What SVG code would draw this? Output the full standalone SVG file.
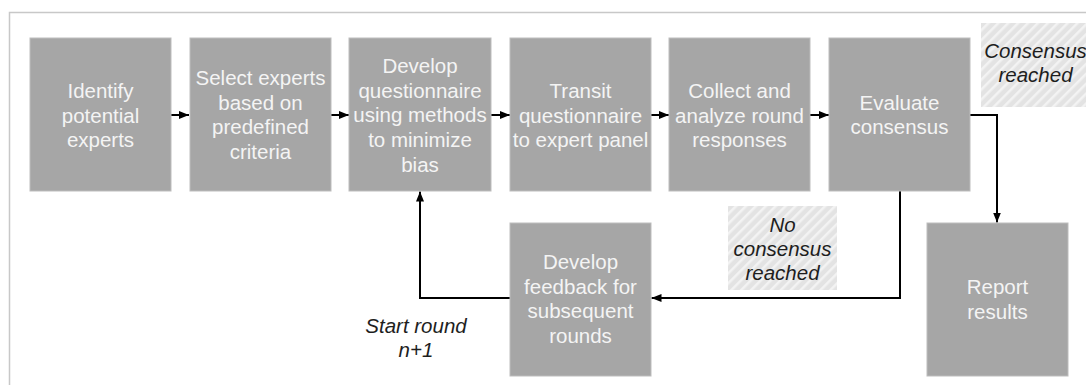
<svg xmlns="http://www.w3.org/2000/svg" width="1086" height="385" viewBox="0 0 1086 385">
<style>
.box{fill:#a6a6a6;stroke:#bdbdbd;stroke-width:1}
.lbl{font-family:"Liberation Sans",Arial,sans-serif;font-size:20.5px;fill:#f4f4f4;text-anchor:middle}
.note{font-family:"Liberation Sans",Arial,sans-serif;font-size:20.5px;font-style:italic;fill:#1e1e1e;text-anchor:middle}
.hatch{fill:url(#hatch)}
.conn{fill:none;stroke:#000;stroke-width:2;marker-end:url(#arr)}
</style>
<defs>
<pattern id="hatch" patternUnits="userSpaceOnUse" width="7" height="7" patternTransform="rotate(45)">
<rect width="7" height="7" fill="#e3e3e3"/>
<rect width="2.5" height="7" fill="#f3f3f3"/>
</pattern>
<marker id="arr" markerUnits="userSpaceOnUse" markerWidth="10" markerHeight="10" viewBox="0 0 10 10" refX="10" refY="5" orient="auto">
<path d="M0,1 L10,5 L0,9 Z" fill="#000"/>
</marker>
</defs>
<rect x="9.5" y="12.5" width="1100" height="400" fill="#fff" stroke="#c8c8c8" stroke-width="1.5"/>

<g id="connectors">
<path class="conn" d="M171,115 H189"/>
<path class="conn" d="M331,115 H349"/>
<path class="conn" d="M491,115 H510"/>
<path class="conn" d="M651,115 H669"/>
<path class="conn" d="M810,115 H829"/>
<path class="conn" d="M970,115 H997 V222.5"/>
<path class="conn" d="M900,191 V298 H651.5"/>
<path class="conn" d="M510,298 H420 V191.5"/>
</g>

<g id="n1">
<rect class="box" x="30" y="38" width="141" height="153"/>
<text class="lbl" x="100.5" y="98"><tspan x="100.5">Identify</tspan><tspan x="100.5" dy="24.7">potential</tspan><tspan x="100.5" dy="24.7">experts</tspan></text>
</g>
<g id="n2">
<rect class="box" x="190" y="38" width="141" height="153"/>
<text class="lbl" x="260.5" y="85"><tspan x="260.5">Select experts</tspan><tspan x="260.5" dy="24.7">based on</tspan><tspan x="260.5" dy="24.7">predefined</tspan><tspan x="260.5" dy="24.7">criteria</tspan></text>
</g>
<g id="n3">
<rect class="box" x="349" y="38" width="142" height="153"/>
<text class="lbl" x="420" y="73"><tspan x="420">Develop</tspan><tspan x="420" dy="24.7">questionnaire</tspan><tspan x="420" dy="24.7">using methods</tspan><tspan x="420" dy="24.7">to minimize</tspan><tspan x="420" dy="24.7">bias</tspan></text>
</g>
<g id="n4">
<rect class="box" x="510" y="38" width="141" height="153"/>
<text class="lbl" x="580.5" y="98"><tspan x="580.5">Transit</tspan><tspan x="580.5" dy="24.7">questionnaire</tspan><tspan x="580.5" dy="24.7">to expert panel</tspan></text>
</g>
<g id="n5">
<rect class="box" x="669" y="38" width="141" height="153"/>
<text class="lbl" x="739.5" y="98"><tspan x="739.5">Collect and</tspan><tspan x="739.5" dy="24.7">analyze round</tspan><tspan x="739.5" dy="24.7">responses</tspan></text>
</g>
<g id="n6">
<rect class="box" x="829" y="38" width="141" height="153"/>
<text class="lbl" x="899.5" y="109.5"><tspan x="899.5">Evaluate</tspan><tspan x="899.5" dy="24.7">consensus</tspan></text>
</g>
<g id="n7">
<rect class="box" x="510" y="223" width="141" height="153"/>
<text class="lbl" x="580.5" y="269"><tspan x="580.5">Develop</tspan><tspan x="580.5" dy="24.7">feedback for</tspan><tspan x="580.5" dy="24.7">subsequent</tspan><tspan x="580.5" dy="24.7">rounds</tspan></text>
</g>
<g id="n8">
<rect class="box" x="927" y="223" width="141" height="153"/>
<text class="lbl" x="997.5" y="294"><tspan x="997.5">Report</tspan><tspan x="997.5" dy="24.7">results</tspan></text>
</g>

<g id="consensus-reached">
<rect class="hatch" x="981" y="23" width="110" height="84"/>
<text class="note" x="1035.5" y="57.5"><tspan x="1035.5">Consensus</tspan><tspan x="1035.5" dy="24.7">reached</tspan></text>
</g>
<g id="no-consensus">
<rect class="hatch" x="728" y="206" width="109" height="84"/>
<text class="note" x="782.5" y="231.5"><tspan x="782.5">No</tspan><tspan x="782.5" dy="24.4">consensus</tspan><tspan x="782.5" dy="24.4">reached</tspan></text>
</g>
<g id="start-round">
<text class="note" x="416" y="333"><tspan x="416">Start round</tspan><tspan x="416" dy="24">n+1</tspan></text>
</g>
</svg>
